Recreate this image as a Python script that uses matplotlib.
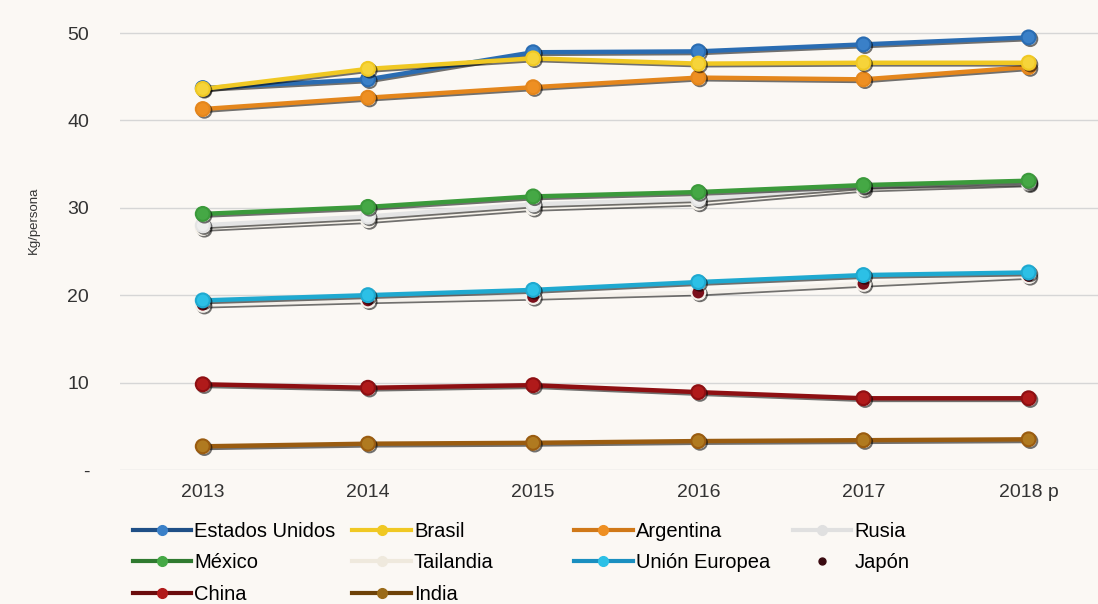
import matplotlib.pyplot as plt
import matplotlib.patheffects as pe
from matplotlib.lines import Line2D

plt.rcParams['font.family'] = ['Liberation Sans', 'DejaVu Sans']

# Data (Kg/persona)
years = [2013, 2014, 2015, 2016, 2017, 2018]
year_labels = ['2013', '2014', '2015', '2016', '2017', '2018 p']

estados_unidos = [43.7, 44.7, 47.8, 47.9, 48.7, 49.5]
brasil = [43.6, 45.9, 47.1, 46.5, 46.6, 46.6]
argentina = [41.3, 42.6, 43.8, 44.9, 44.7, 46.1]
rusia = [28.0, 29.0, 30.4, 31.0, 32.5, 32.9]
mexico = [29.3, 30.1, 31.3, 31.8, 32.6, 33.1]
tailandia = [27.7, 28.6, 30.0, 30.6, 32.2, 32.8]
union_europea = [19.4, 20.0, 20.6, 21.5, 22.3, 22.6]
japon = [18.9, 19.4, 19.8, 20.3, 21.3, 22.2]
china = [9.8, 9.4, 9.7, 8.9, 8.2, 8.2]
india = [2.7, 3.0, 3.1, 3.3, 3.4, 3.5]

y_ticks = [0, 10, 20, 30, 40, 50]
y_tick_labels = ['-', '10', '20', '30', '40', '50']

bg = '#fbf8f4'
fig = plt.figure(figsize=(10.98, 6.04), dpi=100, facecolor=bg)
ax = fig.add_axes([0.109, 0.222, 0.891, 0.745], facecolor=bg)

shadow = [pe.SimpleLineShadow(offset=(1.2, -1.2), shadow_color='black', alpha=0.55), pe.Normal()]

def draw(vals, color, mec=None, mfc=None, lw=3.2, z=3):
    ax.plot(years, vals, color=color, lw=lw, marker='o', markersize=10,
            markerfacecolor=mfc or color, markeredgecolor=mec or color,
            markeredgewidth=1.5, zorder=z, path_effects=shadow)

draw(india, '#9a5c10', mfc='#b07a20')
draw(china, '#8e0f12', mfc='#b01a1a')
draw(japon, '#f4f0ea', mfc='#7a0e1a', mec='#f4f0ea', lw=3.0)
draw(union_europea, '#1fa9d0', mfc='#2cc0e6')
draw(tailandia, '#f6f2ea', mfc='#ffffff', mec='#f6f2ea')
draw(rusia, '#e4e4e4', mfc='#eeeeee')
draw(mexico, '#3b9a3b', mfc='#45a845')
draw(argentina, '#e4861c', mfc='#ee8f22')
draw(estados_unidos, '#2a6cb2', mfc='#3a80c8')
draw(brasil, '#f0c823', mfc='#f6d43a')

ax.set_xlim(2012.497, 2018.42)
ax.set_ylim(0, 51.5)
ax.set_xticks(years)
ax.set_xticklabels(year_labels)
ax.set_yticks(y_ticks)
ax.set_yticklabels(y_tick_labels)
ax.tick_params(length=0, labelsize=14, colors='#333333')
ax.tick_params(axis='y', pad=22)
ax.tick_params(axis='x', pad=10)
ax.grid(axis='y', color='#d6d6d6', lw=1)
ax.set_axisbelow(True)
for s in ax.spines.values():
    s.set_visible(False)
fig.text(0.031, 0.636, 'Kg/persona', rotation=90, fontsize=9.5, color='#333333',
         ha='center', va='center')

def h(color, mfc=None):
    return Line2D([], [], color=color, lw=3, marker='o', markersize=7,
                  markerfacecolor=mfc or color, markeredgecolor=mfc or color)

columns = [
    [(h('#1f4f86', '#3a80c8'), 'Estados Unidos'),
     (h('#2f7a2f', '#45a845'), 'México'),
     (h('#6b0c0c', '#b01a1a'), 'China')],
    [(h('#f0c823'), 'Brasil'),
     (h('#efe9dd'), 'Tailandia'),
     (h('#6e4208', '#9a6a18'), 'India')],
    [(h('#d07818', '#ee8f22'), 'Argentina'),
     (h('#1a8fc0', '#2cc0e6'), 'Unión Europea')],
    [(h('#e0e0e0'), 'Rusia'),
     (Line2D([], [], ls='none', marker='o', markersize=5, color='#3a0a10'), 'Japón')],
]
col_x = [0.121, 0.321, 0.523, 0.722]
for x, col in zip(col_x, columns):
    fig.legend([a for a, _ in col], [b for _, b in col], ncol=1,
               loc='upper left', bbox_to_anchor=(x, 0.136), frameon=False,
               fontsize=14.5, handlelength=2.9, handletextpad=0.15,
               labelspacing=0.62, borderaxespad=0, borderpad=0)

fig.savefig('out.png', dpi=100, facecolor=bg)
